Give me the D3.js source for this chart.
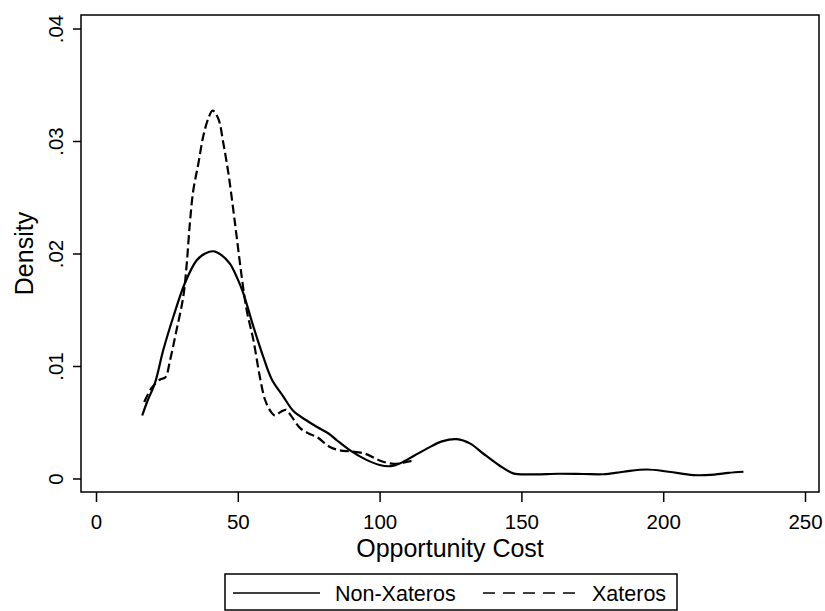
<!DOCTYPE html>
<html>
<head>
<meta charset="utf-8">
<script src="https://cdn.jsdelivr.net/npm/d3@7"></script>
<style>
  html, body { margin: 0; padding: 0; background: #fff; }
  svg { display: block; }
  text { font-family: "Liberation Sans", Arial, Helvetica, sans-serif; fill: #000; }
</style>
</head>
<body>
<svg id="chart" width="825" height="611"></svg>
<script>
// Kernel density estimates of opportunity cost, by group
const nonXaterosCost = [16.3, 18, 20.8, 23.7, 27.3, 31.4, 35.5, 38.5, 41.4, 44, 47.2, 50, 51.9, 55.5, 59, 62, 66, 69.6, 74, 77.8, 82, 84.9, 89.6, 95, 100, 104, 107.2, 112, 117, 122, 127.2, 132, 136.6, 142, 147.1, 154, 163, 171.8, 178.9, 186, 194.2, 202, 210.6, 218, 223, 228.3];
const nonXaterosDensity = [0.0056, 0.0068, 0.0085, 0.0114, 0.0144, 0.0174, 0.0194, 0.0200, 0.0202, 0.0199, 0.0191, 0.0177, 0.0165, 0.0135, 0.0108, 0.0088, 0.0073, 0.0060, 0.0052, 0.0046, 0.0040, 0.0034, 0.0025, 0.0017, 0.0012, 0.0011, 0.00135, 0.0020, 0.0027, 0.0033, 0.0035, 0.0031, 0.0022, 0.0012, 0.00046, 0.00037, 0.00042, 0.0004, 0.00038, 0.0006, 0.0008, 0.0006, 0.0003, 0.00035, 0.0005, 0.0006];

const xaterosCost = [17, 19.5, 22.6, 24.5, 26.1, 28.4, 30.8, 32, 33.1, 34.3, 36.1, 37.8, 39.6, 41.1, 43.1, 44.9, 46.7, 48.4, 49.6, 51.4, 53.1, 55.5, 57.8, 59.6, 61.5, 63.1, 65, 67, 69, 71.9, 75, 77.8, 82.5, 86, 90, 95, 100, 105, 110, 112];
const xaterosDensity = [0.0068, 0.0080, 0.0088, 0.0090, 0.0105, 0.0132, 0.0162, 0.0191, 0.0227, 0.0256, 0.0280, 0.0304, 0.0320, 0.0327, 0.0320, 0.0298, 0.0271, 0.0239, 0.0215, 0.0179, 0.0150, 0.0123, 0.0090, 0.0070, 0.0060, 0.0056, 0.0059, 0.0061, 0.0055, 0.0045, 0.0040, 0.0037, 0.0028, 0.0025, 0.0024, 0.0022, 0.0016, 0.0013, 0.0015, 0.0016];

const xTicks = [0, 50, 100, 150, 200, 250];
const yTicks = [0, 0.01, 0.02, 0.03, 0.04];
const yTickLabels = ["0", ".01", ".02", ".03", ".04"];
const seriesNames = ["Non-Xateros", "Xateros"];

const svg = d3.select("#chart");

const x = d3.scaleLinear().domain([0, 250]).range([96, 805]);
const y = d3.scaleLinear().domain([0, 0.04]).range([478.5, 28.5]);

const frame = { left: 81, right: 819, top: 15, bottom: 492 };

// plot frame
svg.append("rect")
  .attr("x", frame.left).attr("y", frame.top)
  .attr("width", frame.right - frame.left)
  .attr("height", frame.bottom - frame.top)
  .attr("fill", "none").attr("stroke", "#000").attr("stroke-width", 1.5);

// x axis
const xAxis = d3.axisBottom(x).tickValues(xTicks).tickSize(10).tickPadding(8).tickFormat(d3.format("d"));
const gx = svg.append("g").attr("transform", `translate(0,${frame.bottom})`).call(xAxis);
gx.select(".domain").remove();
gx.selectAll("line").attr("stroke", "#000").attr("stroke-width", 1.5);
gx.selectAll("text").style("font-size", "20.5px").attr("dy", "0.95em");

// y axis
const yAxis = d3.axisLeft(y).tickValues(yTicks).tickSize(8).tickPadding(0)
  .tickFormat((d, i) => yTickLabels[i]);
const gy = svg.append("g").attr("transform", `translate(${frame.left},0)`).call(yAxis);
gy.select(".domain").remove();
gy.selectAll("line").attr("stroke", "#000").attr("stroke-width", 1.5);
gy.selectAll("text")
  .style("font-size", "20.5px")
  .attr("text-anchor", "middle")
  .attr("x", null).attr("dy", null)
  .attr("transform", "translate(-18,0) rotate(-90)");

// axis titles
svg.append("text")
  .attr("x", (frame.left + frame.right) / 2)
  .attr("y", 557)
  .attr("text-anchor", "middle")
  .style("font-size", "25px")
  .text("Opportunity Cost");

svg.append("text")
  .attr("transform", `translate(33,${(frame.top + frame.bottom) / 2}) rotate(-90)`)
  .attr("text-anchor", "middle")
  .style("font-size", "25px")
  .text("Density");

// density curves
const line = d3.line()
  .x(d => x(d[0]))
  .y(d => y(d[1]))
  .curve(d3.curveCatmullRom.alpha(0.5));

const nonX = nonXaterosCost.map((c, i) => [c, nonXaterosDensity[i]]);
const xat = xaterosCost.map((c, i) => [c, xaterosDensity[i]]);

svg.append("path")
  .attr("d", line(nonX))
  .attr("fill", "none").attr("stroke", "#000").attr("stroke-width", 2.2);

svg.append("path")
  .attr("d", line(xat))
  .attr("fill", "none").attr("stroke", "#000").attr("stroke-width", 2.2)
  .attr("stroke-dasharray", "9,4");

// legend
const legend = svg.append("g");
legend.append("rect")
  .attr("x", 225).attr("y", 574).attr("width", 452).attr("height", 36)
  .attr("fill", "#fff").attr("stroke", "#000").attr("stroke-width", 1.5);

legend.append("line")
  .attr("x1", 233).attr("x2", 320).attr("y1", 593).attr("y2", 593)
  .attr("stroke", "#000").attr("stroke-width", 1.5);
legend.append("text")
  .attr("x", 335).attr("y", 601)
  .style("font-size", "21.5px")
  .text(seriesNames[0]);

legend.append("line")
  .attr("x1", 483).attr("x2", 580).attr("y1", 593).attr("y2", 593)
  .attr("stroke", "#000").attr("stroke-width", 1.5)
  .attr("stroke-dasharray", "12,8");
legend.append("text")
  .attr("x", 592).attr("y", 601)
  .style("font-size", "21.5px")
  .text(seriesNames[1]);
</script>
</body>
</html>
